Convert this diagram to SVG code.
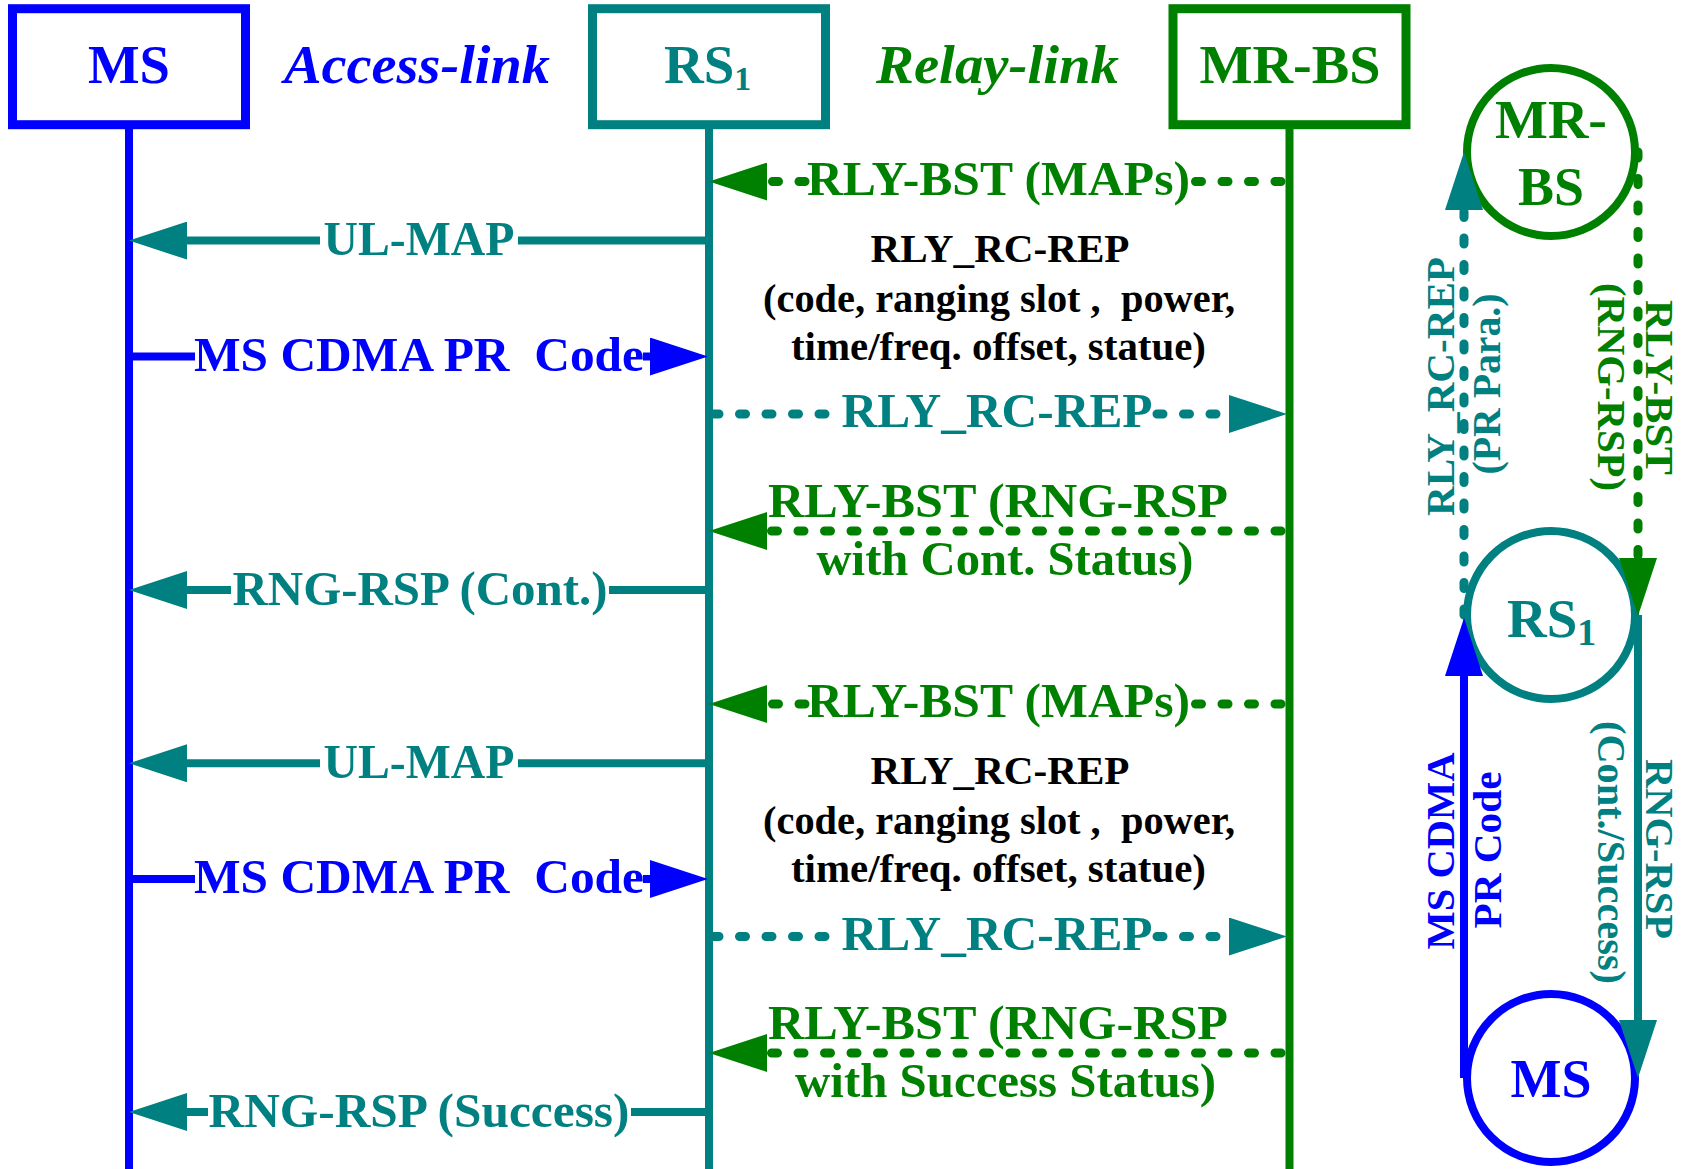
<svg xmlns="http://www.w3.org/2000/svg" width="1692" height="1169" viewBox="0 0 1692 1169">
<style>
text { font-family: "Liberation Serif", "Times New Roman", serif; font-weight: bold; }
.hd { font-size: 55px; }
.it { font-style: italic; }
.msg { font-size: 48.5px; }
.note { font-size: 40.5px; fill: #000000; }
.rot { font-size: 40.5px; }
.cir { font-size: 55px; }
.blue { fill: #0000ff; }
.teal { fill: #008080; }
.green { fill: #008000; }
.sb { stroke: #0000ff; }
.st { stroke: #008080; }
.sg { stroke: #008000; }
.box { fill: #ffffff; stroke-width: 9; }
.life { stroke-width: 8; fill: none; }
.solid { stroke-width: 8; fill: none; }
.dot { stroke-width: 9; fill: none; stroke-linecap: round; stroke-dasharray: 6 20.5; }
.node { fill: #ffffff; stroke-width: 8; }
</style>
<defs>
<marker id="ab" markerUnits="userSpaceOnUse" markerWidth="58" markerHeight="38" refX="0" refY="19" orient="auto" viewBox="0 0 58 38"><path d="M0,0 L58,19 L0,38 z" fill="#0000ff"/></marker>
<marker id="at" markerUnits="userSpaceOnUse" markerWidth="58" markerHeight="38" refX="0" refY="19" orient="auto" viewBox="0 0 58 38"><path d="M0,0 L58,19 L0,38 z" fill="#008080"/></marker>
<marker id="ag" markerUnits="userSpaceOnUse" markerWidth="58" markerHeight="38" refX="0" refY="19" orient="auto" viewBox="0 0 58 38"><path d="M0,0 L58,19 L0,38 z" fill="#008000"/></marker>
</defs>

<rect width="1692" height="1169" fill="#ffffff"/>

<g id="node-ms">
  <line class="life sb" x1="129" y1="128" x2="129" y2="1169"/>
  <rect class="box sb" x="12.5" y="8.7" width="233" height="116"/>
  <text class="hd blue" x="129" y="83.3" text-anchor="middle" textLength="82" lengthAdjust="spacingAndGlyphs">MS</text>
</g>
<g id="node-rs1">
  <line class="life st" x1="709" y1="128" x2="709" y2="1169"/>
  <rect class="box st" x="592.5" y="8.7" width="233" height="116"/>
  <text class="hd teal" x="664" y="83.3">RS<tspan font-size="34" dy="7">1</tspan></text>
</g>
<g id="node-mrbs">
  <line class="life sg" x1="1289.5" y1="128" x2="1289.5" y2="1169"/>
  <rect class="box sg" x="1173" y="8.7" width="233" height="116"/>
  <text class="hd green" x="1290" y="83.3" text-anchor="middle" textLength="181" lengthAdjust="spacingAndGlyphs">MR-BS</text>
</g>
<g id="label-access-link">
  <text class="hd it blue" x="417" y="83.3" text-anchor="middle" textLength="266" lengthAdjust="spacingAndGlyphs">Access-link</text>
</g>
<g id="label-relay-link">
  <text class="hd it green" x="997.5" y="83.3" text-anchor="middle" textLength="243" lengthAdjust="spacingAndGlyphs">Relay-link</text>
</g>

<g id="note-1">
  <text class="note" x="1000" y="262" text-anchor="middle" textLength="259" lengthAdjust="spacingAndGlyphs">RLY_RC-REP</text>
  <text class="note" xml:space="preserve" x="999" y="312" text-anchor="middle" textLength="472" lengthAdjust="spacingAndGlyphs">(code, ranging slot ,  power,</text>
  <text class="note" x="998.5" y="360" text-anchor="middle" textLength="415" lengthAdjust="spacingAndGlyphs">time/freq. offset, statue)</text>
</g>
<g id="note-2">
  <text class="note" x="1000" y="784" text-anchor="middle" textLength="259" lengthAdjust="spacingAndGlyphs">RLY_RC-REP</text>
  <text class="note" xml:space="preserve" x="999" y="834" text-anchor="middle" textLength="472" lengthAdjust="spacingAndGlyphs">(code, ranging slot ,  power,</text>
  <text class="note" x="998.5" y="882" text-anchor="middle" textLength="415" lengthAdjust="spacingAndGlyphs">time/freq. offset, statue)</text>
</g>

<g id="node-c-mrbs">
  <circle class="node sg" cx="1551" cy="152" r="84"/>
  <text class="cir green" x="1551" y="138" text-anchor="middle" textLength="112" lengthAdjust="spacingAndGlyphs">MR-</text>
  <text class="cir green" x="1551" y="205" text-anchor="middle" textLength="66" lengthAdjust="spacingAndGlyphs">BS</text>
</g>
<g id="node-c-rs1">
  <circle class="node st" cx="1551" cy="615" r="84"/>
  <text class="cir teal" x="1507" y="637">RS<tspan font-size="38" dy="8">1</tspan></text>
</g>
<g id="node-c-ms">
  <circle class="node sb" cx="1551" cy="1078" r="84"/>
  <text class="cir blue" x="1551" y="1097" text-anchor="middle" textLength="81" lengthAdjust="spacingAndGlyphs">MS</text>
</g>

<g id="connectors">
  <!-- round 1 -->
  <line class="dot sg" x1="1281" y1="181.5" x2="1194" y2="181.5"/>
  <line class="dot sg" x1="805" y1="181.5" x2="767" y2="181.5" marker-end="url(#ag)"/>
  <text class="msg green" x="998.5" y="194.5" text-anchor="middle" textLength="383" lengthAdjust="spacingAndGlyphs">RLY-BST (MAPs)</text>

  <line class="solid st" x1="709" y1="240.6" x2="518" y2="240.6"/>
  <line class="solid st" x1="320" y1="240.6" x2="187" y2="240.6" marker-end="url(#at)"/>
  <text class="msg teal" x="419" y="255" text-anchor="middle" textLength="191" lengthAdjust="spacingAndGlyphs">UL-MAP</text>

  <line class="solid sb" x1="129" y1="356.5" x2="195" y2="356.5"/>
  <line class="solid sb" x1="643" y1="356.5" x2="650" y2="356.5" marker-end="url(#ab)"/>
  <text class="msg blue" xml:space="preserve" x="419" y="370.5" text-anchor="middle" textLength="450" lengthAdjust="spacingAndGlyphs">MS CDMA PR  Code</text>

  <line class="dot st" x1="713" y1="414" x2="838" y2="414"/>
  <line class="dot st" x1="1157" y1="414" x2="1229" y2="414" marker-end="url(#at)"/>
  <text class="msg teal" x="997" y="427" text-anchor="middle" textLength="311" lengthAdjust="spacingAndGlyphs">RLY_RC-REP</text>

  <line class="dot sg" x1="1281" y1="531" x2="767" y2="531" marker-end="url(#ag)"/>
  <text class="msg green" x="998" y="517" text-anchor="middle" textLength="460" lengthAdjust="spacingAndGlyphs">RLY-BST (RNG-RSP</text>
  <text class="msg green" x="1005" y="575" text-anchor="middle" textLength="377" lengthAdjust="spacingAndGlyphs">with Cont. Status)</text>

  <line class="solid st" x1="709" y1="590" x2="609" y2="590"/>
  <line class="solid st" x1="231" y1="590" x2="187" y2="590" marker-end="url(#at)"/>
  <text class="msg teal" x="420" y="604.5" text-anchor="middle" textLength="375" lengthAdjust="spacingAndGlyphs">RNG-RSP (Cont.)</text>

  <!-- round 2 -->
  <line class="dot sg" x1="1281" y1="704" x2="1194" y2="704"/>
  <line class="dot sg" x1="805" y1="704" x2="767" y2="704" marker-end="url(#ag)"/>
  <text class="msg green" x="998.5" y="717" text-anchor="middle" textLength="383" lengthAdjust="spacingAndGlyphs">RLY-BST (MAPs)</text>

  <line class="solid st" x1="709" y1="763.3" x2="518" y2="763.3"/>
  <line class="solid st" x1="320" y1="763.3" x2="187" y2="763.3" marker-end="url(#at)"/>
  <text class="msg teal" x="419" y="778" text-anchor="middle" textLength="191" lengthAdjust="spacingAndGlyphs">UL-MAP</text>

  <line class="solid sb" x1="129" y1="879" x2="195" y2="879"/>
  <line class="solid sb" x1="643" y1="879" x2="650" y2="879" marker-end="url(#ab)"/>
  <text class="msg blue" xml:space="preserve" x="419" y="893" text-anchor="middle" textLength="450" lengthAdjust="spacingAndGlyphs">MS CDMA PR  Code</text>

  <line class="dot st" x1="713" y1="936.5" x2="838" y2="936.5"/>
  <line class="dot st" x1="1157" y1="936.5" x2="1229" y2="936.5" marker-end="url(#at)"/>
  <text class="msg teal" x="997" y="949.5" text-anchor="middle" textLength="311" lengthAdjust="spacingAndGlyphs">RLY_RC-REP</text>

  <line class="dot sg" x1="1281" y1="1053" x2="767" y2="1053" marker-end="url(#ag)"/>
  <text class="msg green" x="998" y="1039" text-anchor="middle" textLength="460" lengthAdjust="spacingAndGlyphs">RLY-BST (RNG-RSP</text>
  <text class="msg green" x="1005.5" y="1097" text-anchor="middle" textLength="421" lengthAdjust="spacingAndGlyphs">with Success Status)</text>

  <line class="solid st" x1="709" y1="1112" x2="631" y2="1112"/>
  <line class="solid st" x1="208" y1="1112" x2="187" y2="1112" marker-end="url(#at)"/>
  <text class="msg teal" x="419" y="1126.5" text-anchor="middle" textLength="421" lengthAdjust="spacingAndGlyphs">RNG-RSP (Success)</text>

  <!-- right-side loop -->
  <line class="dot st" x1="1464" y1="615" x2="1464" y2="210" marker-end="url(#at)"/>
  <text class="rot teal" transform="translate(1454,386.5) rotate(-90)" text-anchor="middle" textLength="259" lengthAdjust="spacingAndGlyphs">RLY_RC-REP</text>
  <text class="rot teal" transform="translate(1500,384) rotate(-90)" text-anchor="middle" textLength="181" lengthAdjust="spacingAndGlyphs">(PR Para.)</text>

  <line class="dot sg" x1="1638" y1="152" x2="1638" y2="558" marker-end="url(#ag)"/>
  <text class="rot green" transform="translate(1645.5,387.5) rotate(90)" text-anchor="middle" textLength="175" lengthAdjust="spacingAndGlyphs">RLY-BST</text>
  <text class="rot green" transform="translate(1598,387) rotate(90)" text-anchor="middle" textLength="208" lengthAdjust="spacingAndGlyphs">(RNG-RSP)</text>

  <line class="solid sb" x1="1464" y1="1078" x2="1464" y2="676" marker-end="url(#ab)"/>
  <text class="rot blue" transform="translate(1454,851) rotate(-90)" text-anchor="middle" textLength="197" lengthAdjust="spacingAndGlyphs">MS CDMA</text>
  <text class="rot blue" transform="translate(1501,850) rotate(-90)" text-anchor="middle" textLength="157" lengthAdjust="spacingAndGlyphs">PR Code</text>

  <line class="solid st" x1="1638" y1="615" x2="1638" y2="1020" marker-end="url(#at)"/>
  <text class="rot teal" transform="translate(1645.5,849) rotate(90)" text-anchor="middle" textLength="180" lengthAdjust="spacingAndGlyphs">RNG-RSP</text>
  <text class="rot teal" transform="translate(1598,852.5) rotate(90)" text-anchor="middle" textLength="263" lengthAdjust="spacingAndGlyphs">(Cont./Success)</text>
</g>
</svg>
